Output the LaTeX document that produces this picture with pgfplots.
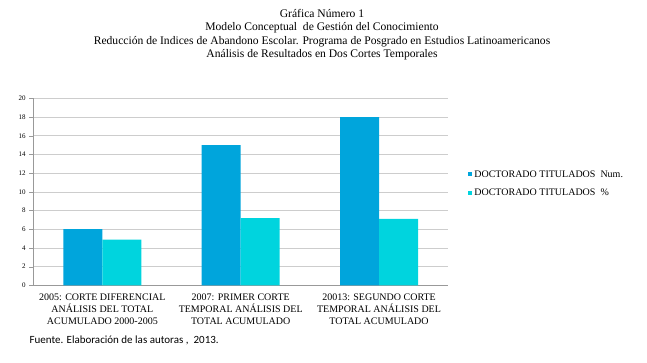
\documentclass[border=0pt]{standalone}
\usepackage{pgfplots}
\pgfplotsset{compat=1.18}
\usepackage{fontspec}
\setmainfont{Liberation Serif}
\newfontfamily\calib{Carlito}
\definecolor{cA}{RGB}{0,165,220}
\definecolor{cB}{RGB}{0,212,222}
\definecolor{gridc}{RGB}{205,205,205}
\begin{document}
\begin{tikzpicture}[x=1pt,y=1pt]
\path (0,0) rectangle (647,362);
\node[align=center,font=\fontsize{11.6}{13.4}\selectfont] at (322,327.5) {Gráfica Número 1\\Modelo Conceptual\ \ de Gestión del Conocimiento\\Reducción de Indices de Abandono Escolar. Programa de Posgrado en Estudios Latinoamericanos\\Análisis de Resultados en Dos Cortes Temporales};
\begin{axis}[
  at={(24,82)}, anchor=south west,
  scale only axis, width=415pt, height=187pt,
  xmin=-0.5, xmax=2.5, ymin=0, ymax=20,
  ytick={0,2,...,20},
  ymajorgrids, grid style={gridc, line width=0.6pt},
  axis x line*=bottom, axis y line*=left,
  axis line style={gray!80},
  xtick={0,1,2},
  major x tick style={draw=none},
  xticklabels={{2005: CORTE DIFERENCIAL\\ANÁLISIS DEL TOTAL\\ACUMULADO 2000-2005},{2007: PRIMER CORTE\\TEMPORAL ANÁLISIS DEL\\TOTAL ACUMULADO},{20013: SEGUNDO CORTE\\TEMPORAL ANÁLISIS DEL\\TOTAL ACUMULADO}},
  xticklabel style={align=center, font=\fontsize{10}{12}\selectfont, yshift=-0.5pt},
  extra x ticks={-0.5,0.5,1.5,2.5},
  extra x tick labels={},
  extra x tick style={grid=none, major tick length=4pt, tick align=outside, major tick style={draw=gray!80}},
  ytick style={draw=gray!80},
  major tick length=4pt, tick align=outside,
  yticklabel style={font=\fontsize{7}{8}\selectfont},
  /pgf/number format/assume math mode=true,
  ybar, bar width=39pt,
  legend style={at={(1.048,0.543)}, anchor=west, draw=none, fill=none,
    font=\fontsize{10}{12}\selectfont, row sep=6.5pt, inner sep=0pt},
  legend cell align=left,
  legend image code/.code={\fill[#1] (0pt,-2pt) rectangle (4pt,2pt);},
]
\addplot[fill=cA, draw=none, bar shift=-19.5pt] coordinates {(0,6) (1,15) (2,18)};
\addplot[fill=cB, draw=none, bar shift=19.5pt] coordinates {(0,4.9) (1,7.2) (2,7.1)};
\legend{DOCTORADO TITULADOS\ \ Num.,DOCTORADO TITULADOS\ \ \%}
\end{axis}
\node[anchor=west, font=\calib\fontsize{11}{13}\selectfont] at (26,21.5) {Fuente. Elaboración de las autoras ,\ \ 2013.};
\end{tikzpicture}
\end{document}
